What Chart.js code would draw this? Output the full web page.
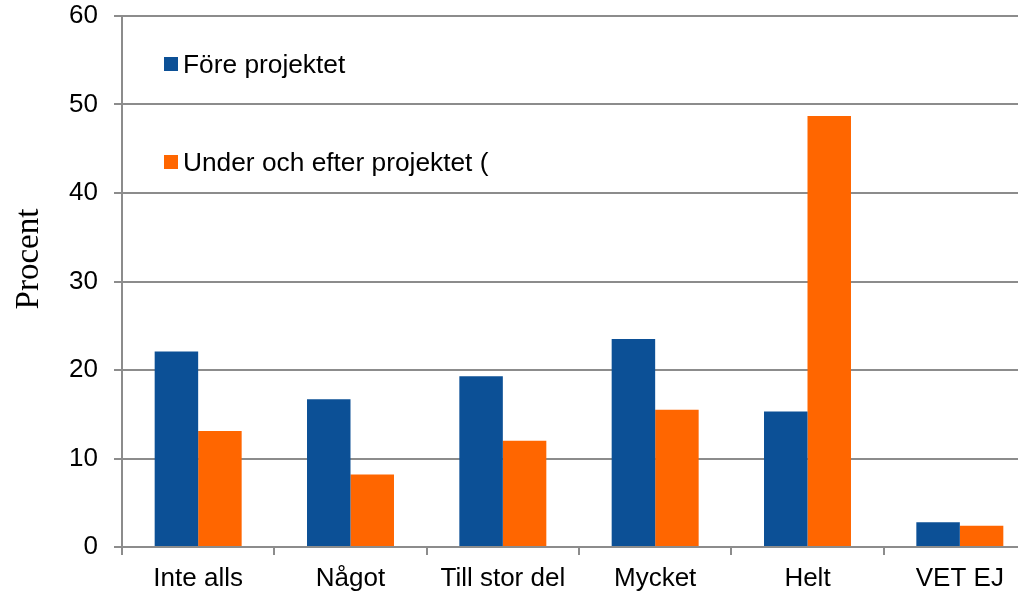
<!DOCTYPE html>
<html>
<head>
<meta charset="utf-8">
<script src="https://cdn.jsdelivr.net/npm/chart.js@4/dist/chart.umd.min.js"></script>
<style>
html,body{margin:0;padding:0;background:#fff;overflow:hidden;width:1018px;height:591px;}
#wrap{position:absolute;left:0;top:0;width:1040px;height:591px;}
</style>
</head>
<body>
<div id="wrap"><canvas id="c" width="1040" height="591"></canvas></div>
<script>
const categories = ["Inte alls", "Något", "Till stor del", "Mycket", "Helt", "VET EJ"];
const seriesNames = ["Före projektet", "Under och efter projektet ("];
const beforeValues = [22.1, 16.7, 19.3, 23.5, 15.3, 2.8];
const afterValues = [13.1, 8.2, 12.0, 15.5, 48.7, 2.4];
const yTicks = [0, 10, 20, 30, 40, 50, 60];
const yTitle = "Procent";

const BLUE = "#0C5096";
const ORANGE = "#FF6600";
const GRID = "#8C8C8C";
const SANS = "'Liberation Sans', Arial, sans-serif";

const legendPlugin = {
  id: "insideLegend",
  afterDraw(chart) {
    const ctx = chart.ctx;
    const squares = [57, 155];
    const baselines = [73, 171];
    ctx.save();
    ctx.beginPath();
    ctx.rect(0, 0, 489, 591);
    ctx.clip();
    chart.data.datasets.forEach((ds, i) => {
      ctx.fillStyle = ds.backgroundColor;
      ctx.fillRect(164, squares[i], 14, 14);
      ctx.fillStyle = "#000";
      ctx.font = "26.3px " + SANS;
      ctx.textBaseline = "alphabetic";
      ctx.textAlign = "left";
      ctx.fillText(ds.label, 183, baselines[i]);
    });
    ctx.restore();
    // y-axis title
    ctx.save();
    ctx.translate(29, 259);
    ctx.rotate(-Math.PI / 2);
    ctx.fillStyle = "#000";
    ctx.font = "33px 'Liberation Serif', 'Times New Roman', serif";
    ctx.textAlign = "center";
    ctx.textBaseline = "middle";
    ctx.fillText(yTitle, 0, 0);
    ctx.restore();
  }
};

new Chart(document.getElementById("c"), {
  type: "bar",
  data: {
    labels: categories,
    datasets: [
      { label: seriesNames[0], data: beforeValues, backgroundColor: BLUE },
      { label: seriesNames[1], data: afterValues, backgroundColor: ORANGE }
    ]
  },
  options: {
    responsive: false,
    animation: false,
    devicePixelRatio: 1,
    layout: { padding: { top: 16, right: 4, left: 0, bottom: 0 } },
    datasets: { bar: { categoryPercentage: 0.571, barPercentage: 1.0 } },
    plugins: {
      legend: { display: false },
      tooltip: { enabled: false }
    },
    scales: {
      x: {
        offset: true,
        grid: {
          offset: true,
          display: true,
          drawOnChartArea: false,
          drawTicks: true,
          tickLength: 8,
          color: GRID,
          lineWidth: 2
        },
        border: { display: true, color: GRID, width: 2 },
        ticks: {
          color: "#000",
          font: { family: SANS, size: 26 },
          padding: 8,
          maxRotation: 0,
          autoSkip: false
        },
        afterFit(scale) { scale.height = 44; scale.paddingLeft = 0; scale.paddingRight = 0; }
      },
      y: {
        min: 0,
        max: 60,
        afterBuildTicks(scale) { scale.ticks = yTicks.map(v => ({ value: v })); },
        grid: {
          color: GRID,
          lineWidth: 2,
          drawTicks: true,
          tickLength: 8
        },
        border: { display: true, color: GRID, width: 2 },
        ticks: {
          color: "#000",
          font: { family: SANS, size: 26 },
          padding: 16
        },
        afterFit(scale) { scale.width = 122; scale.paddingTop = 0; scale.paddingBottom = 0; }
      }
    }
  },
  plugins: [legendPlugin]
});
</script>
</body>
</html>
